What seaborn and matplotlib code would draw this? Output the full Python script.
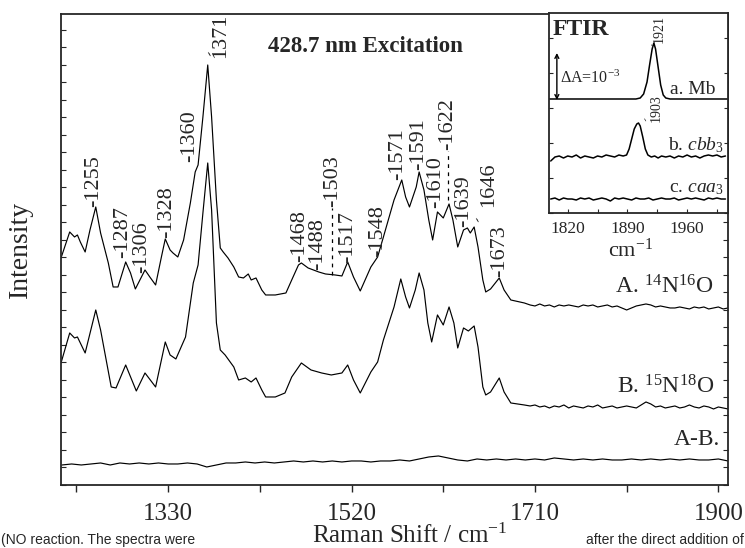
import numpy as np
import pandas as pd
import matplotlib
matplotlib.use('Agg')
import matplotlib.pyplot as plt
from matplotlib.ticker import FixedLocator, MultipleLocator, NullFormatter
import seaborn as sns

# ---- Raman spectra (428.7 nm excitation) ----
# intensities are relative to each trace's own flat baseline
a_shift = [1219, 1228, 1233, 1236, 1239, 1244, 1249, 1255, 1260, 1268,
           1273, 1278, 1286, 1291, 1296, 1306, 1311, 1317, 1323, 1327,
           1332, 1335, 1340, 1346, 1353, 1358, 1361, 1366, 1371, 1375,
           1380, 1384, 1387, 1392, 1398, 1403, 1408, 1413, 1416, 1421,
           1427, 1431, 1441, 1452, 1458, 1465, 1468, 1475, 1486, 1493,
           1503, 1510, 1516, 1522, 1529, 1540, 1547, 1553, 1564, 1572,
           1576, 1580, 1587, 1590, 1595, 1600, 1604, 1609, 1615, 1621,
           1625, 1630, 1636, 1640, 1643, 1647, 1651, 1656, 1659, 1664,
           1673, 1678, 1685, 1699]
a_int = [49, 75, 70, 72, 65, 55, 77, 100, 74, 44,
         20, 20, 45, 34, 18, 37, 30, 22, 50, 68,
         57, 54, 50, 67, 104, 135, 142, 190, 242, 190,
         107, 59, 55, 49, 40, 30, 29, 33, 27, 29,
         17, 12, 12, 14, 27, 42, 44, 39, 35, 33,
         32, 31, 45, 30, 16, 40, 50, 70, 107, 127,
         110, 100, 120, 135, 117, 87, 67, 95, 89, 103,
         87, 60, 77, 79, 74, 80, 60, 27, 15, 18,
         29, 17, 7, 4]

b_shift = [1219, 1228, 1233, 1236, 1244, 1255, 1260, 1271, 1276, 1286,
           1297, 1306, 1317, 1327, 1332, 1338, 1348, 1356, 1361, 1366,
           1371, 1375, 1380, 1384, 1389, 1398, 1403, 1410, 1416, 1421,
           1427, 1431, 1441, 1451, 1458, 1468, 1478, 1489, 1499, 1510,
           1516, 1522, 1529, 1540, 1547, 1553, 1564, 1571, 1576, 1580,
           1586, 1590, 1595, 1599, 1603, 1609, 1615, 1621, 1626, 1630,
           1636, 1641, 1647, 1651, 1656, 1659, 1664, 1673, 1678, 1685,
           1699]
b_int = [44, 74, 69, 70, 54, 97, 77, 20, 19, 42,
         16, 34, 20, 65, 52, 48, 70, 124, 142, 194,
         244, 197, 84, 57, 52, 40, 27, 29, 25, 29,
         17, 10, 10, 14, 30, 44, 37, 34, 32, 34,
         42, 27, 14, 35, 45, 67, 100, 128, 110, 99,
         117, 134, 117, 84, 65, 92, 82, 100, 84, 59,
         79, 76, 81, 60, 20, 12, 15, 29, 15, 4,
         2]

# flat, noisy part above 1700 cm-1
tail_shift = np.arange(1705, 1911, 5)
a_tail = [2, 1, 3, 1, 2, 0, 2, 1, 2, 1, 0, 2, 1, 2, 0, 1, 2, 0, 1, -1,
          -3, -1, 1, 2, 3, 2, 0, 1, 0, -1, -1, 0, -1, -2, 0, -1, 0, -2, -1, 0,
          -2, -1]
b_tail = [1, 2, 0, 1, -1, 1, 0, 2, -1, 1, 0, -1, 1, 0, 2, -1, 0, 1, -1, 0,
          1, 0, -1, 2, 5, 3, 0, 1, -1, 0, 1, -1, 0, 2, 0, -1, 1, 0, -2, 0,
          -1, -2]

# A-B difference
diff_shift = np.arange(1220, 1911, 10)
diff_int = [-3, -2, -3, -2, -1, -3, -1, -2, -1, -2, -1, -2, -2, -1, -2, -5, -3, -1, -1, 0,
            -1, 0, -1, 0, 1, 0, 1, 0, 1, 0, 1, 1, 0, 1, 1, 2, 1, 3, 5, 6,
            4, 2, 1, 3, 2, 3, 2, 3, 2, 3, 2, 4, 3, 2, 3, 2, 3, 2, 2, 3,
            2, 3, 2, 3, 2, 3, 2, 2, 3, 1]

peak_names = ['1255', '1287', '1306', '1328', '1360', '1468', '1488', '1503',
              '1517', '1548', '1571', '1591', '1610', '1622', '1639', '1673']

# ---- FTIR inset ----
mb_wn = [1798, 1850, 1900, 1905, 1909, 1913, 1916, 1919, 1921, 1923,
         1926, 1929, 1932, 1935, 1940, 1960, 2008]
mb_abs = [0, 0, 0, 1, 5, 17, 34, 50, 56, 50, 32, 14, 4, 1, 0, 0, 0]

cbb_wn = [1800, 1805, 1810, 1815, 1820, 1825, 1830, 1835, 1840, 1845,
          1850, 1855, 1860, 1865, 1870, 1875, 1880, 1885,
          1889, 1892, 1895, 1898, 1901, 1903, 1905, 1908, 1911, 1914,
          1918, 1922, 1926, 1930,
          1935, 1940, 1945, 1950, 1955, 1960, 1965, 1970, 1975, 1980,
          1985, 1990, 1995, 2000, 2005]
cbb_abs = [-4, 0, 1, -1, 1, 0, 2, -1, 1, 0, -1, 1, 0, 2, 1, 0, 2, 1,
           2, 8, 18, 28, 33, 34, 31, 20, 8, 2, 0, 1, -1, 1,
           0, 1, -1, 1, 0, 2, 0, 1, -1, 1, 2, 1, 2, 0, 1]

caa_wn = np.arange(1800, 2006, 5)
caa_abs = [0, 1, -1, 1, 0, 0, -1, 1, 0, 1, -1, 0, 1, 0, -2, 1, 0, 1, 0, -1,
           1, 0, 0, 1, -1, 0, 1, 0, 0, 1, -1, 0, 1, 0, 1, 0, -1, 1, 0, 1,
           0, 0]

# ---- layout ----
raman_offset = {'A': 178, 'B': 78, 'A-B': 23}
ftir_offset = {'Mb': 114, 'cbb3': 56, 'caa3': 14}
label_pos = [(1253, 278), (1283, 227), (1302, 212), (1328, 247), (1352, 323),
             (1466, 223), (1485, 215), (1500, 278), (1516, 222), (1547, 228),
             (1568, 305), (1589, 315), (1607, 277), (1620, 335), (1636, 258),
             (1673, 208)]

sns.set_style('ticks')
plt.rcParams['font.family'] = ['Liberation Serif', 'DejaVu Serif']
plt.rcParams['mathtext.fontset'] = 'custom'
plt.rcParams['mathtext.rm'] = 'Liberation Serif'
plt.rcParams['mathtext.it'] = 'Liberation Serif:italic'
plt.rcParams['mathtext.bf'] = 'Liberation Serif:bold'

raman = pd.concat([
    pd.DataFrame({'shift': np.concatenate([a_shift, tail_shift]),
                  'y': np.concatenate([a_int, a_tail]) + raman_offset['A'],
                  'trace': 'A'}),
    pd.DataFrame({'shift': np.concatenate([b_shift, tail_shift]),
                  'y': np.concatenate([b_int, b_tail]) + raman_offset['B'],
                  'trace': 'B'}),
    pd.DataFrame({'shift': diff_shift,
                  'y': np.array(diff_int) + raman_offset['A-B'],
                  'trace': 'A-B'}),
], ignore_index=True)

ftir = pd.concat([
    pd.DataFrame({'wn': mb_wn, 'y': np.array(mb_abs) + ftir_offset['Mb'], 'trace': 'Mb'}),
    pd.DataFrame({'wn': cbb_wn, 'y': np.array(cbb_abs) + ftir_offset['cbb3'], 'trace': 'cbb3'}),
    pd.DataFrame({'wn': caa_wn, 'y': np.array(caa_abs) + ftir_offset['caa3'], 'trace': 'caa3'}),
], ignore_index=True)

fig = plt.figure(figsize=(7.45, 5.48), dpi=100)
ax = fig.add_axes([0.0819, 0.1150, 0.8953, 0.8595])

sns.lineplot(data=raman, x='shift', y='y', hue='trace', palette=['k'] * 3,
             estimator=None, sort=False, legend=False, lw=0.85, ax=ax)
ax.set_xlim(1219, 1910)
ax.set_ylim(0, 471)

# peak labels
for name, (px, py) in zip(peak_names, label_pos):
    ax.text(px, py, '-' + name, rotation=90, ha='center', va='bottom', fontsize=16)
ax.vlines([1500, 1620], [210, 285], [277, 334], colors='k', lw=0.9,
          linestyles=(0, (3, 3.5)))
ax.text(1384, 427, '1371', rotation=90, ha='center', va='bottom', fontsize=16)
ax.text(1370, 431, '-', rotation=-60, ha='center', va='center', fontsize=11)
ax.text(1662, 278, '1646', rotation=90, ha='center', va='bottom', fontsize=16)
ax.text(1648, 265, '-', rotation=-60, ha='center', va='center', fontsize=11)

ax.text(0.456, 0.930, '428.7 nm Excitation', transform=ax.transAxes,
        ha='center', va='center', fontsize=16.5, fontweight='bold')
ax.text(0.978, 0.420, r'A. $^{14}$N$^{16}$O', transform=ax.transAxes,
        ha='right', va='center', fontsize=17)
ax.text(0.980, 0.208, r'B. $^{15}$N$^{18}$O', transform=ax.transAxes,
        ha='right', va='center', fontsize=17)
ax.text(0.988, 0.0955, 'A-B.', transform=ax.transAxes,
        ha='right', va='center', fontsize=17)

ax.xaxis.set_major_locator(FixedLocator([1330, 1520, 1710, 1900]))
ax.xaxis.set_minor_locator(FixedLocator([1235, 1425, 1615, 1805]))
ax.tick_params(axis='x', which='both', direction='out', length=5, width=1,
               labelsize=18, pad=8, top=False)
ax.yaxis.set_major_locator(MultipleLocator(17.5))
ax.yaxis.set_major_formatter(NullFormatter())
ax.tick_params(axis='y', direction='in', length=3.5, width=0.8, left=True, right=True)
for sp in ax.spines.values():
    sp.set_visible(True)
    sp.set_linewidth(1.3)
ax.set_xlabel('Raman Shift / cm$^{-1}$', fontsize=18)
ax.xaxis.set_label_coords(0.523, -0.082)
ax.set_ylabel('Intensity', fontsize=20)
ax.yaxis.set_label_coords(-0.042, 0.5)

# FTIR inset
ax_in = fig.add_axes([0.7369, 0.6113, 0.2403, 0.365])
ax_in.set_facecolor('white')
sns.lineplot(data=ftir, x='wn', y='y', hue='trace', palette=['k'] * 3,
             estimator=None, sort=False, legend=False, lw=1.1, ax=ax_in)
ax_in.set_xlim(1798, 2008)
ax_in.set_ylim(0, 200)
ax_in.xaxis.set_major_locator(FixedLocator([1820, 1890, 1960]))
ax_in.xaxis.set_minor_locator(FixedLocator([1855, 1925, 1995]))
ax_in.tick_params(axis='x', which='both', direction='in', length=3, width=0.8,
                  labelsize=12.5, pad=6, top=False)
ax_in.yaxis.set_major_locator(MultipleLocator(35))
ax_in.yaxis.set_major_formatter(NullFormatter())
ax_in.tick_params(axis='y', direction='in', length=3, width=0.8, left=True, right=True)
for sp in ax_in.spines.values():
    sp.set_visible(True)
    sp.set_linewidth(1.3)
ax_in.set_xlabel('cm$^{-1}$', fontsize=16)
ax_in.xaxis.set_label_coords(0.456, -0.13)
ax_in.set_ylabel('')

ax_in.text(0.022, 0.915, 'FTIR', transform=ax_in.transAxes, ha='left', va='center',
           fontsize=17, fontweight='bold')
ax_in.annotate('', xy=(0.044, 0.80), xytext=(0.044, 0.565), xycoords='axes fraction',
               arrowprops=dict(arrowstyle='<->', lw=1, color='k', mutation_scale=7,
                               shrinkA=0, shrinkB=0))
ax_in.text(0.062, 0.675, r'$\Delta$A=10$^{-3}$', transform=ax_in.transAxes,
           ha='left', va='center', fontsize=11.5)
ax_in.text(0.93, 0.615, 'a. Mb', transform=ax_in.transAxes, ha='right', va='center',
           fontsize=14)
ax_in.text(0.975, 0.34, r'b. $\mathit{cbb}_\mathrm{3}$', transform=ax_in.transAxes,
           ha='right', va='center', fontsize=14)
ax_in.text(0.975, 0.125, r'c. $\mathit{caa}_\mathrm{3}$', transform=ax_in.transAxes,
           ha='right', va='center', fontsize=14)
ax_in.text(1927, 170, '1921', rotation=90, ha='center', va='bottom', fontsize=10)
ax_in.text(1918, 168, '-', rotation=-60, ha='center', va='center', fontsize=8)
ax_in.text(1924, 91, '1903', rotation=90, ha='center', va='bottom', fontsize=10)
ax_in.text(1909, 94, '-', rotation=-60, ha='center', va='center', fontsize=8)

# caption line of the source page peeking in at the bottom
fig.text(0.002, 0.002, '(NO reaction. The spectra were', fontsize=10,
         family='Liberation Sans', ha='left', va='bottom', zorder=0)
fig.text(0.998, 0.002, 'after the direct addition of', fontsize=10,
         family='Liberation Sans', ha='right', va='bottom', zorder=0)

fig.savefig('out.png', dpi=100)
